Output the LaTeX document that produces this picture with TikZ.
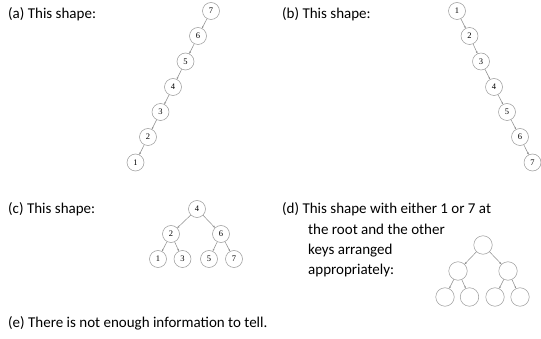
\documentclass[tikz,border=0pt]{standalone}
\usepackage{fontspec}
\setmainfont{Carlito}
\newfontfamily\numfont{Liberation Serif}
\usetikzlibrary{arrows.meta}
\begin{document}
\begin{tikzpicture}[x=1pt,y=-1pt,
  lbl/.style={anchor=base west,inner sep=0pt,font=\fontsize{15}{20.3}\selectfont,text=black},
  key/.style={circle,draw=black!40,line width=0.5pt,minimum size=17pt,inner sep=0pt,font=\numfont\fontsize{8.5}{8.5}\selectfont},
  bkey/.style={key,minimum size=18.5pt},
  edge/.style={draw=black!45,line width=0.5pt,-{Stealth[length=2.2pt,width=1.8pt]}}]
\useasboundingbox (0,0) rectangle (541,339);
\fill[white] (0,0) rectangle (541,339);
% labels
\node[lbl] (la) at (8,19) {(a) This shape:};
\node[lbl] (lb) at (282,19) {(b) This shape:};
\node[lbl] (lc) at (8,214) {(c) This shape:};
\node[lbl] (ld1) at (282,214) {(d) This shape with either 1 or 7 at};
\node[lbl] (ld2) at (308,234.3) {the root and the other};
\node[lbl] (ld3) at (308,254.6) {keys arranged};
\node[lbl] (ld4) at (308,274.9) {appropriately:};
\node[lbl] (le) at (8,327) {(e) There is not enough information to tell.};
% tree a
\node[key] (a7) at (211,11) {7};
\node[key] (a6) at (198,36) {6};
\node[key] (a5) at (185.5,61.5) {5};
\node[key] (a4) at (173,87) {4};
\node[key] (a3) at (160.5,112) {3};
\node[key] (a2) at (148,137) {2};
\node[key] (a1) at (135.5,162.5) {1};
\draw[edge] (a7) -- (a6);
\draw[edge] (a6) -- (a5);
\draw[edge] (a5) -- (a4);
\draw[edge] (a4) -- (a3);
\draw[edge] (a3) -- (a2);
\draw[edge] (a2) -- (a1);
% tree b
\node[key] (b1) at (457,11) {1};
\node[key] (b2) at (469.5,36) {2};
\node[key] (b3) at (481,61.5) {3};
\node[key] (b4) at (494,87) {4};
\node[key] (b5) at (507,112) {5};
\node[key] (b6) at (520,137) {6};
\node[key] (b7) at (532.5,162.5) {7};
\draw[edge] (b1) -- (b2);
\draw[edge] (b2) -- (b3);
\draw[edge] (b3) -- (b4);
\draw[edge] (b4) -- (b5);
\draw[edge] (b5) -- (b6);
\draw[edge] (b6) -- (b7);
% tree c
\node[key] (c4) at (197,209) {4};
\node[key] (c2) at (171,234) {2};
\node[key] (c6) at (221,234) {6};
\node[key] (c1) at (158,259) {1};
\node[key] (c3) at (182.5,259) {3};
\node[key] (c5) at (209,259) {5};
\node[key] (c7) at (234,259) {7};
\draw[edge] (c4) -- (c2);
\draw[edge] (c4) -- (c6);
\draw[edge] (c2) -- (c1);
\draw[edge] (c2) -- (c3);
\draw[edge] (c6) -- (c5);
\draw[edge] (c6) -- (c7);
% tree d
\node[bkey] (dr) at (483,245) {};
\node[bkey] (dl) at (458,271) {};
\node[bkey] (drr) at (508,271) {};
\node[bkey] (d1) at (445,297) {};
\node[bkey] (d2) at (469.5,297) {};
\node[bkey] (d3) at (495,297) {};
\node[bkey] (d4) at (520,297) {};
\draw[edge] (dr) -- (dl);
\draw[edge] (dr) -- (drr);
\draw[edge] (dl) -- (d1);
\draw[edge] (dl) -- (d2);
\draw[edge] (drr) -- (d3);
\draw[edge] (drr) -- (d4);
\end{tikzpicture}
\end{document}
